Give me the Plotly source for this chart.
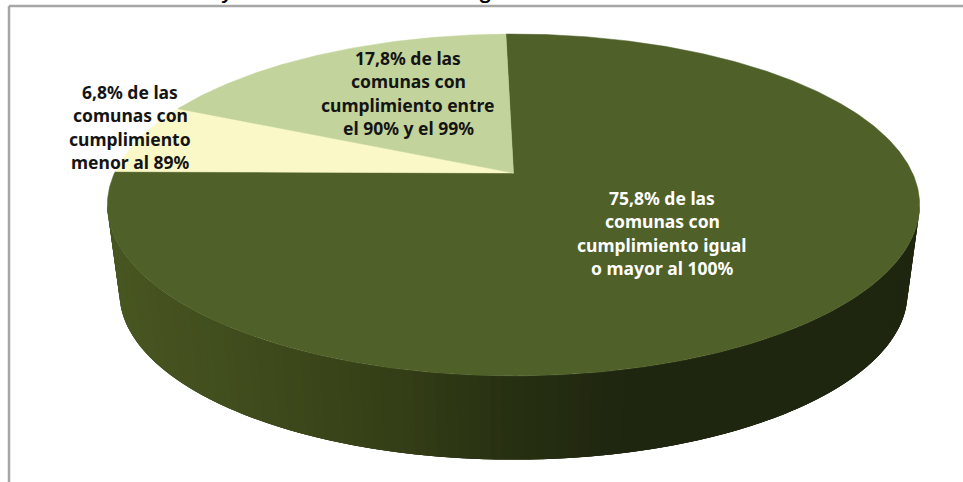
import numpy as np
import plotly.graph_objects as go

# ---- data (clockwise from the top of the pie) ----
shares = [75.8, 6.8, 17.8]
slice_labels = [
    ["75,8% de las", "comunas con", "cumplimiento igual", "o mayor al 100%"],
    ["6,8% de las", "comunas con", "cumplimiento", "menor al 89%"],
    ["17,8% de las", "comunas con", "cumplimiento entre", "el 90% y el 99%"],
]
slice_colors = ["#4f6028", "#fbf8c8", "#c2d39b"]
label_colors = ["#ffffff", "#141414", "#141414"]
label_pos = [(662, 233), (130, 127), (408, 93)]
title_fragments = [("y", 227), ("g", 485)]

# ---- projection of the pie disc to the page (pixel axes) ----
CX, CY = 513.5, 173.0
A, PY, PC = 399.0, 132.6, -0.187
START = -1.3
DEPTH, SHRINK_X, SHRINK_Y, MID_Y = 88.0, 0.97, 0.975, 205.0
LINE_STEP = 23.5


def project(theta_deg):
    t = np.radians(np.asarray(theta_deg, dtype=float))
    u, v = np.sin(t), -np.cos(t)
    d = 1 + PC * v
    return CX + A * u / d, (PY * v + CY) / d


def project_low(theta_deg):
    x, y = project(theta_deg)
    return CX + SHRINK_X * (x - CX), MID_Y + SHRINK_Y * (y - MID_Y) + DEPTH


side_stops_x = [118, 260, 400, 520, 620, 910]
side_stops = np.array([(72, 86, 34), (63, 75, 28), (52, 62, 23), (39, 47, 18), (32, 39, 16), (31, 38, 15)], float)


def side_color(x):
    c = [np.interp(x, side_stops_x, side_stops[:, i]) for i in range(3)]
    return "rgb(%d,%d,%d)" % tuple(c)


fig = go.Figure()

# side wall: overlapping strips along the visible rim, so no seams show
edges = np.linspace(100.8, 259.2, 121)
step = edges[1] - edges[0]
for a, b in zip(edges[:-1], edges[1:]):
    th = np.linspace(a, min(b + 2 * step, 259.2), 5)
    xt, yt = project(th)
    xl, yl = project_low(th)
    col = side_color((project(a)[0] + project(b)[0]) / 2)
    fig.add_trace(go.Scatter(
        x=np.r_[xt, xl[::-1]], y=np.r_[yt, yl[::-1]], fill="toself", fillcolor=col,
        mode="none", hoverinfo="skip", showlegend=False))

# top face slices, clockwise from the top
fracs = np.array(shares) / sum(shares) * 360
angle = START
for val, color in zip(fracs, slice_colors):
    th = np.linspace(angle, angle + val, max(8, int(val * 2)))
    xs, ys = project(th)
    fig.add_trace(go.Scatter(
        x=np.r_[CX, xs, CX], y=np.r_[CY, ys, CY], fill="toself", fillcolor=color,
        mode="lines", line=dict(color=color, width=0.5), hoverinfo="skip", showlegend=False))
    angle += val

for lines, color, (x, y) in zip(slice_labels, label_colors, label_pos):
    for i, text in enumerate(lines):
        fig.add_annotation(x=x, y=y + (i - (len(lines) - 1) / 2) * LINE_STEP, text="<b>%s</b>" % text,
                           showarrow=False, align="center",
                           font=dict(family="Noto Sans", size=17.5, color=color))

# title clipped by the top of the picture: only descenders show
for ch, x in title_fragments:
    fig.add_annotation(x=x, y=6, text=ch, showarrow=False, yanchor="bottom",
                       font=dict(family="Liberation Sans", size=26, color="#000000"))

# frame of the original chart area
fig.add_shape(type="line", x0=9, x1=9, y0=6, y1=482, line=dict(color="#a6a6a6", width=2.5), layer="above")
fig.add_shape(type="line", x0=9, x1=963, y0=6, y1=6, line=dict(color="#a6a6a6", width=2.5), layer="above")

fig.update_layout(
    width=963, height=482, margin=dict(l=0, r=0, t=0, b=0),
    paper_bgcolor="#ffffff", plot_bgcolor="#ffffff", showlegend=False,
    xaxis=dict(range=[0, 963], visible=False, fixedrange=True),
    yaxis=dict(range=[482, 0], visible=False, fixedrange=True),
)
fig.write_html("out.html", config=dict(displayModeBar=False),
               post_script="document.body.style.margin='0';document.body.style.overflow='hidden';")
